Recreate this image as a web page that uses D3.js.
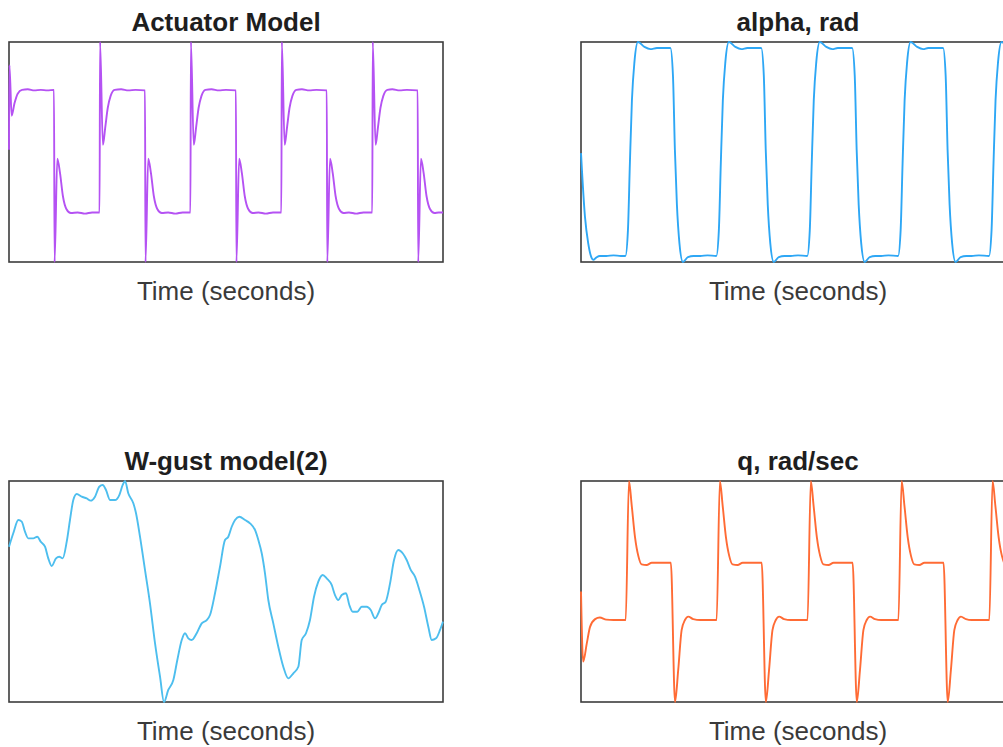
<!DOCTYPE html>
<html>
<head>
<meta charset="utf-8">
<script src="https://cdn.jsdelivr.net/npm/d3@7"></script>
<style>
  html, body { margin: 0; padding: 0; background: #ffffff; }
  svg { display: block; }
</style>
</head>
<body>
<script>
// ---------------- DATA ----------------
const timeDomain = [0, 60];
const titles = ["Actuator Model", "alpha, rad", "W-gust model(2)", "q, rad/sec"];
const xLabel = "Time (seconds)";

const actuatorT = [0, 0.06, 0.37, 0.75, 1.2, 1.8, 2.6, 3.5, 4.4, 5.3, 6.22,
  6.30, 6.68, 7.05, 7.45, 7.95, 8.55, 9.5, 10.5, 11.5, 12.52,
  12.59, 12.98, 13.30, 13.65, 14.05, 14.60, 15.5, 16.5, 17.5, 18.80,
  18.87, 19.25, 19.62, 20.02, 20.52, 21.12, 22, 23, 24, 25.08,
  25.15, 25.54, 25.86, 26.21, 26.61, 27.16, 28, 29, 30, 31.37,
  31.44, 31.82, 32.19, 32.59, 33.09, 33.69, 34.5, 35.5, 36.5, 37.65,
  37.72, 38.11, 38.43, 38.78, 39.18, 39.73, 40.5, 41.5, 42.5, 43.93,
  44.00, 44.38, 44.75, 45.15, 45.65, 46.25, 47, 48, 49, 50.22,
  50.29, 50.68, 51.00, 51.35, 51.75, 52.30, 53, 54, 55, 56.50,
  56.57, 56.95, 57.32, 57.72, 58.22, 58.82, 59.4, 60];
const actuatorV = [0.02, 0.79, 0.33, 0.44, 0.53, 0.565, 0.57, 0.56, 0.565, 0.56, 0.565,
  -1.0, -0.06, -0.19, -0.40, -0.52, -0.555, -0.55, -0.56, -0.55, -0.55,
  1.0, 0.065, 0.22, 0.40, 0.51, 0.565, 0.57, 0.56, 0.565, 0.56,
  -1.0, -0.06, -0.19, -0.40, -0.52, -0.555, -0.55, -0.56, -0.55, -0.55,
  1.0, 0.065, 0.22, 0.40, 0.51, 0.565, 0.57, 0.56, 0.565, 0.56,
  -1.0, -0.06, -0.19, -0.40, -0.52, -0.555, -0.55, -0.56, -0.55, -0.55,
  1.0, 0.065, 0.22, 0.40, 0.51, 0.565, 0.57, 0.56, 0.565, 0.56,
  -1.0, -0.06, -0.19, -0.40, -0.52, -0.555, -0.55, -0.56, -0.55, -0.55,
  1.0, 0.065, 0.22, 0.40, 0.51, 0.565, 0.57, 0.56, 0.565, 0.56,
  -1.0, -0.06, -0.19, -0.40, -0.52, -0.555, -0.55, -0.55];

const alphaT = [0, 0.55, 1.0, 1.45, 1.7, 2.1, 2.6, 3.5, 4.5, 5.5, 6.14,
  6.49, 6.76, 7.04, 7.39, 7.87, 8.77, 9.60, 10.5, 11.5, 12.36,
  12.71, 12.98, 13.26, 13.61, 14.09, 14.78, 15.57, 16.5, 17.5, 18.71,
  19.06, 19.33, 19.61, 19.96, 20.44, 21.34, 22.17, 23, 24, 24.92,
  25.27, 25.54, 25.82, 26.17, 26.65, 27.34, 28.13, 29, 30, 31.28,
  31.63, 31.90, 32.18, 32.53, 33.01, 33.91, 34.74, 35.5, 36.5, 37.49,
  37.84, 38.11, 38.39, 38.74, 39.22, 39.91, 40.70, 41.5, 42.5, 43.84,
  44.19, 44.46, 44.74, 45.09, 45.57, 46.47, 47.30, 48, 49, 50.06,
  50.41, 50.68, 50.96, 51.31, 51.79, 52.48, 53.27, 54, 55, 56.41,
  56.76, 57.03, 57.31, 57.66, 58.14, 59.04, 60];
const alphaV = [-0.01, -0.59, -0.83, -0.96, -0.98, -0.96, -0.945, -0.945, -0.94, -0.945, -0.945,
  -0.71, -0.10, 0.47, 0.82, 1.0, 0.955, 0.935, 0.945, 0.945, 0.945,
  0.70, 0.02, -0.48, -0.83, -1.0, -0.955, -0.945, -0.945, -0.94, -0.945,
  -0.71, -0.10, 0.47, 0.82, 1.0, 0.955, 0.935, 0.945, 0.945, 0.945,
  0.70, 0.02, -0.48, -0.83, -1.0, -0.955, -0.945, -0.945, -0.94, -0.945,
  -0.71, -0.10, 0.47, 0.82, 1.0, 0.955, 0.935, 0.945, 0.945, 0.945,
  0.70, 0.02, -0.48, -0.83, -1.0, -0.955, -0.945, -0.945, -0.94, -0.945,
  -0.71, -0.10, 0.47, 0.82, 1.0, 0.955, 0.935, 0.945, 0.945, 0.945,
  0.70, 0.02, -0.48, -0.83, -1.0, -0.955, -0.945, -0.945, -0.94, -0.945,
  -0.71, -0.10, 0.47, 0.82, 1.0, 0.955, 0.94];

const gustT = [0, 0.59, 1.29, 1.76, 2.21, 2.67, 3.36, 3.91, 4.38, 4.98, 5.43, 5.90,
  6.50, 6.95, 7.42, 7.98, 8.43, 8.89, 9.36, 10.05, 10.74, 11.30, 11.89, 12.48,
  12.95, 13.41, 13.96, 14.66, 15.25, 15.72, 16.04, 16.49, 17.19, 17.56, 18.11,
  18.80, 19.49, 20.19, 20.88, 21.43, 22.02, 22.72, 23.27, 23.88, 24.33, 24.79,
  25.26, 25.95, 26.64, 27.33, 27.79, 28.48, 29.17, 29.86, 30.32, 30.79, 31.25,
  31.84, 32.63, 33.32, 34.01, 34.47, 34.94, 35.39, 35.85, 36.54, 37.23, 37.92,
  38.61, 39.31, 40.00, 40.47, 41.06, 41.61, 42.17, 42.76, 43.37, 43.92, 44.61,
  45.07, 45.53, 46.00, 46.59, 47.05, 47.52, 48.15, 48.76, 49.45, 50.01, 50.60,
  51.06, 51.53, 52.08, 52.68, 53.23, 53.82, 54.43, 54.98, 55.54, 56.13, 56.73,
  57.38, 57.97, 58.44, 59.04, 59.59, 60];
const gustV = [0.405, 0.527, 0.647, 0.632, 0.541, 0.481, 0.481, 0.496, 0.451, 0.405, 0.300, 0.231,
  0.300, 0.315, 0.300, 0.451, 0.647, 0.828, 0.882, 0.858, 0.843, 0.822, 0.858, 0.948,
  0.964, 0.919, 0.828, 0.828, 0.873, 0.964, 1.0, 0.889, 0.798, 0.708, 0.496,
  0.195, -0.107, -0.469, -0.771, -1.0, -0.891, -0.801, -0.620, -0.439, -0.378, -0.424,
  -0.439, -0.378, -0.288, -0.258, -0.213, -0.016, 0.224, 0.466, 0.496, 0.586, 0.647,
  0.677, 0.647, 0.617, 0.557, 0.466, 0.346, 0.165, -0.077, -0.288, -0.500, -0.681,
  -0.786, -0.740, -0.681, -0.439, -0.378, -0.258, -0.047, 0.089, 0.149, 0.119, 0.059,
  -0.032, -0.077, -0.032, -0.016, -0.122, -0.183, -0.183, -0.138, -0.138, -0.167, -0.243,
  -0.197, -0.122, -0.092, 0.074, 0.285, 0.376, 0.346, 0.285, 0.195, 0.134, 0.014,
  -0.138, -0.319, -0.439, -0.424, -0.348, -0.273];

const qT = [0, 0.3, 0.8, 1.25, 1.95, 2.6, 3.5, 4.5, 5.5, 6.18,
  6.63, 7.01, 7.47, 7.93, 8.38, 9.08, 9.78, 10.8, 11.8, 12.42,
  13.0, 13.44, 13.91, 14.37, 14.83, 15.52, 16.5, 17.5, 18.75,
  19.20, 19.58, 20.04, 20.50, 20.95, 21.65, 22.35, 23.5, 24.98,
  25.56, 26.00, 26.47, 26.93, 27.39, 28.08, 29, 30, 31.32,
  31.77, 32.15, 32.61, 33.07, 33.52, 34.22, 34.92, 36, 37.55,
  38.13, 38.57, 39.04, 39.50, 39.96, 40.65, 41.5, 42.5, 43.88,
  44.33, 44.71, 45.17, 45.63, 46.08, 46.78, 47.48, 48.5, 50.12,
  50.70, 51.14, 51.61, 52.07, 52.53, 53.22, 54, 55, 56.45,
  56.90, 57.28, 57.74, 58.20, 58.65, 59.35, 60];
const qV = [0.0, -0.635, -0.47, -0.32, -0.25, -0.235, -0.255, -0.258, -0.258, -0.258,
  1.0, 0.78, 0.49, 0.32, 0.245, 0.24, 0.26, 0.26, 0.26, 0.26,
  -1.0, -0.71, -0.35, -0.258, -0.227, -0.25, -0.258, -0.258, -0.258,
  1.0, 0.78, 0.49, 0.32, 0.245, 0.24, 0.26, 0.26, 0.26,
  -1.0, -0.71, -0.35, -0.258, -0.227, -0.25, -0.258, -0.258, -0.258,
  1.0, 0.78, 0.49, 0.32, 0.245, 0.24, 0.26, 0.26, 0.26,
  -1.0, -0.71, -0.35, -0.258, -0.227, -0.25, -0.258, -0.258, -0.258,
  1.0, 0.78, 0.49, 0.32, 0.245, 0.24, 0.26, 0.26, 0.26,
  -1.0, -0.71, -0.35, -0.258, -0.227, -0.25, -0.258, -0.258, -0.258,
  1.0, 0.78, 0.49, 0.32, 0.245, 0.24, 0.26];

const seriesT = [actuatorT, alphaT, gustT, qT];
const seriesV = [actuatorV, alphaV, gustV, qV];
const seriesColors = ["#b552f3", "#2ea7f5", "#4dbeee", "#ff6b35"];

// ---------------- LAYOUT ----------------
const W = 1003, H = 747;
const boxes = [
  {x: 9,   y: 42,  w: 434, h: 220},
  {x: 581, y: 42,  w: 434, h: 220},
  {x: 9,   y: 481, w: 434, h: 221},
  {x: 581, y: 481, w: 434, h: 221}
];

const svg = d3.select("body").append("svg")
  .attr("width", W).attr("height", H)
  .style("background", "#fff");

boxes.forEach((b, i) => {
  const data = seriesT[i].map((t, k) => ({t, v: seriesV[i][k]}));
  const x = d3.scaleLinear().domain(timeDomain).range([b.x, b.x + b.w]);
  const y = d3.scaleLinear().domain(d3.extent(data, d => d.v)).range([b.y + b.h, b.y]);

  const g = svg.append("g");
  const clipId = "clip" + i;
  svg.append("clipPath").attr("id", clipId)
    .append("rect").attr("x", b.x - 1).attr("y", b.y - 1.5)
    .attr("width", b.w + 2).attr("height", b.h + 3);

  g.append("rect")
    .attr("x", b.x).attr("y", b.y).attr("width", b.w).attr("height", b.h)
    .attr("fill", "#fff").attr("stroke", "#3c3c3c").attr("stroke-width", 1.6);

  const line = d3.line().x(d => x(d.t)).y(d => y(d.v)).curve(d3.curveMonotoneX);
  g.append("path").datum(data)
    .attr("clip-path", `url(#${clipId})`)
    .attr("d", line)
    .attr("fill", "none")
    .attr("stroke", seriesColors[i])
    .attr("stroke-width", 1.9)
    .attr("stroke-linejoin", "round");

  g.append("text")
    .attr("x", b.x + b.w / 2).attr("y", b.y - 11)
    .attr("text-anchor", "middle")
    .attr("font-family", "'Liberation Sans', Arial, Helvetica, sans-serif")
    .attr("font-weight", "bold").attr("font-size", 26)
    .attr("fill", "#1e1e1e")
    .text(titles[i]);

  g.append("text")
    .attr("x", b.x + b.w / 2).attr("y", b.y + b.h + 38)
    .attr("text-anchor", "middle")
    .attr("font-family", "'Liberation Sans', Arial, Helvetica, sans-serif")
    .attr("font-size", 26)
    .attr("fill", "#3a3a3a")
    .text(xLabel);
});
</script>
</body>
</html>
